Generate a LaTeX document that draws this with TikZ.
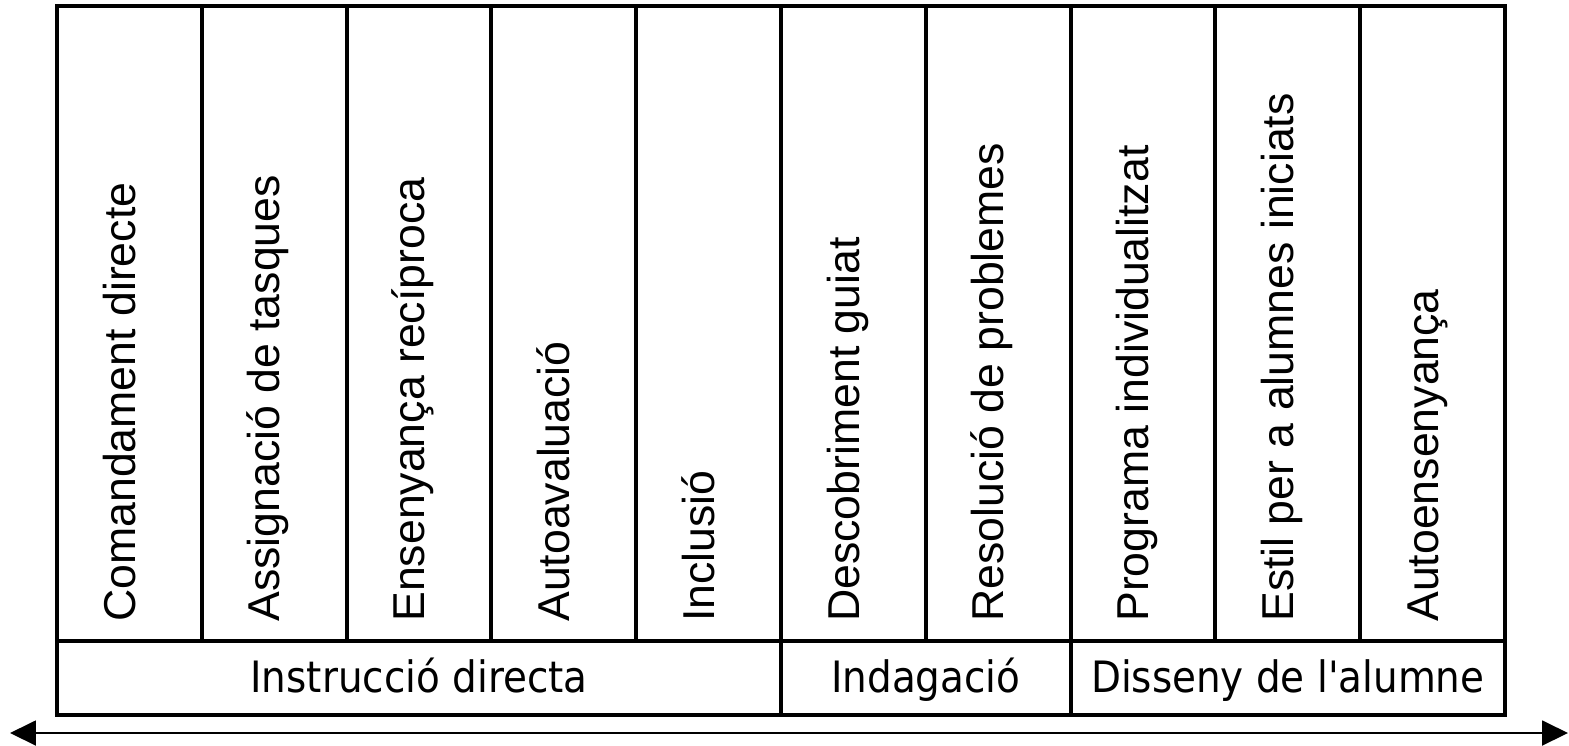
\documentclass[tikz,border=0pt]{standalone}
\usepackage{fontspec}
\usetikzlibrary{arrows.meta}
\newfontfamily\arialfont{Liberation Sans}
\newfontfamily\tahomafont{DejaVu Sans}[FakeStretch=0.9]
\tikzset{
  vlabel/.style={rotate=90,anchor=base west,inner sep=0pt,font=\arialfont\fontsize{25.4}{30}\selectfont},
  hlabel/.style={anchor=base,inner sep=0pt,font=\tahomafont\fontsize{24.6}{30}\selectfont},
  frame/.style={line width=2.3pt},
}
\begin{document}
\begin{tikzpicture}[x=0.02cm,y=-0.02cm]
  \useasboundingbox (0,0) rectangle (1569,745);
  % table
  \draw[frame] (57,6) rectangle (1505,715);
  \draw[frame] (57,641) -- (1505,641);
  \draw[frame] (201.8,6) -- (201.8,641);
  \draw[frame] (346.6,6) -- (346.6,641);
  \draw[frame] (491.4,6) -- (491.4,641);
  \draw[frame] (636.2,6) -- (636.2,641);
  \draw[frame] (781,6) -- (781,715);
  \draw[frame] (925.8,6) -- (925.8,641);
  \draw[frame] (1070.6,6) -- (1070.6,715);
  \draw[frame] (1215.4,6) -- (1215.4,641);
  \draw[frame] (1360.2,6) -- (1360.2,641);
  % styles
  \node[vlabel] (cd) at (135,622) {Comandament directe};
  \node[vlabel] (at) at (279.8,622) {Assignació de tasques};
  \node[vlabel] (er) at (424.6,622) {Ensenyança recíproca};
  \node[vlabel] (av) at (569.4,622) {Autoavaluació};
  \node[vlabel] (in) at (714.2,622) {Inclusió};
  \node[vlabel] (dg) at (859,622) {Descobriment guiat};
  \node[vlabel] (rp) at (1003.8,622) {Resolució de problemes};
  \node[vlabel] (pi) at (1148.6,622) {Programa individualitzat};
  \node[vlabel] (ea) at (1293.4,622) {Estil per a alumnes iniciats};
  \node[vlabel] (ae) at (1438.2,622) {Autoensenyança};
  % groups
  \node[hlabel] (id) at (419,692) {Instrucció directa};
  \node[hlabel] (ig) at (925.8,692) {Indagació};
  \node[hlabel] (da) at (1287.8,692) {Disseny de l'alumne};
  % arrow
  \coordinate (L) at (10,733);
  \coordinate (R) at (1568,733);
  \draw[line width=1.1pt,{Triangle[length=0.52cm,width=0.5cm]}-{Triangle[length=0.52cm,width=0.5cm]}] (L) -- (R);
\end{tikzpicture}
\end{document}
